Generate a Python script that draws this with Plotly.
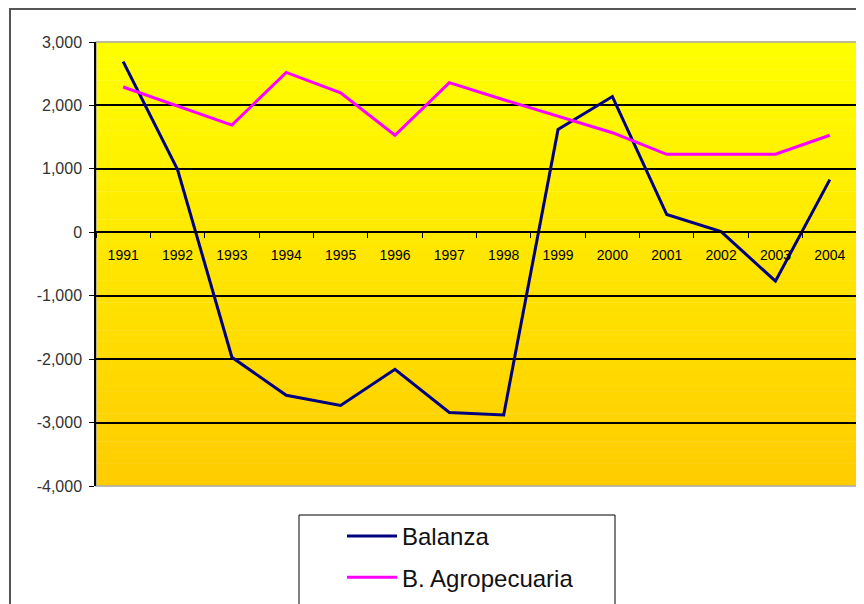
import plotly.graph_objects as go

# values
years = ["1991", "1992", "1993", "1994", "1995", "1996", "1997",
         "1998", "1999", "2000", "2001", "2002", "2003", "2004"]
balanza = [2690, 990, -1970, -2570, -2730, -2160, -2840,
           -2880, 1620, 2140, 280, 10, -770, 830]
agropecuaria = [2290, 1990, 1690, 2520, 2200, 1530, 2360,
                2090, 1830, 1570, 1230, 1230, 1230, 1530]
y_ticks = [3000, 2000, 1000, 0, -1000, -2000, -3000, -4000]
y_labels = ["3,000", "2,000", "1,000", "0", "-1,000", "-2,000", "-3,000", "-4,000"]

# the page body keeps its 8px default margin, so the figure is 8px smaller
W, H = 856, 596
L, R, T, B = 88, 7, 34, 118
pw, ph = W - L - R, H - T - B
OFF = 8


def px_x(x):
    # screen pixel -> paper fraction
    return (x - OFF - L) / pw


def px_y(y):
    return (H - B - (y - OFF)) / ph


fig = go.Figure()
fig.add_trace(go.Scatter(x=years, y=balanza, mode="lines", name="Balanza",
                         line=dict(color="#000080", width=3), legendgroup="a"))
fig.add_trace(go.Scatter(x=years, y=agropecuaria, mode="lines", name="B. Agropecuaria",
                         line=dict(color="#FF00FF", width=3), legendgroup="b"))

shapes = []
# yellow to orange gradient for the plot area
n = 80
for i in range(n):
    t = i / (n - 1)
    g = round(255 - (255 - 204) * t)
    shapes.append(dict(type="rect", xref="paper", yref="paper",
                       x0=0, x1=1, y0=1 - (i + 1) / n, y1=1 - i / n + 0.001,
                       fillcolor=f"rgb(255,{g},0)", line=dict(width=0), layer="below"))
# plot area frame
shapes.append(dict(type="rect", xref="paper", yref="paper", x0=0, x1=1, y0=0, y1=1,
                   line=dict(color="#a8a8a8", width=1.5), layer="below"))
# outer chart frame
shapes.append(dict(type="rect", xref="paper", yref="paper",
                   x0=px_x(10), x1=px_x(880), y0=px_y(620), y1=px_y(9),
                   line=dict(color="#555555", width=2)))
# legend box
shapes.append(dict(type="rect", xref="paper", yref="paper",
                   x0=px_x(299), x1=px_x(615), y0=px_y(640), y1=px_y(515),
                   line=dict(color="#000000", width=1)))

fig.update_layout(
    width=W, height=H,
    margin=dict(l=L, r=R, t=T, b=B, autoexpand=False),
    paper_bgcolor="white",
    plot_bgcolor="rgba(0,0,0,0)",
    font=dict(family="Arial, Liberation Sans", color="#000000"),
    shapes=shapes,
    showlegend=True,
    legend=dict(x=px_x(342), y=px_y(514), xanchor="left", yanchor="top",
                bgcolor="rgba(0,0,0,0)", borderwidth=0,
                font=dict(size=24, family="Arial, Liberation Sans", color="#111"),
                tracegroupgap=7, itemwidth=50),
    xaxis=dict(type="category", anchor="free", position=4 / 7, range=[-0.5, 13.5],
               showline=True, linecolor="black", linewidth=1.5,
               ticks="outside", tickson="boundaries", ticklen=5, tickcolor="black",
               ticklabelstandoff=10,
               showgrid=False, tickfont=dict(size=14, color="#000")),
    yaxis=dict(range=[-4000, 3000], domain=[0, 1], tickvals=y_ticks, ticktext=y_labels,
               showline=True, linecolor="black", linewidth=1.5,
               ticks="outside", ticklen=5, tickcolor="black", ticklabelstandoff=4,
               gridcolor="black", gridwidth=1.5, zeroline=True, zerolinecolor="black",
               zerolinewidth=1.5, tickfont=dict(size=16, color="#333")),
)

fig.write_html("out.html")
